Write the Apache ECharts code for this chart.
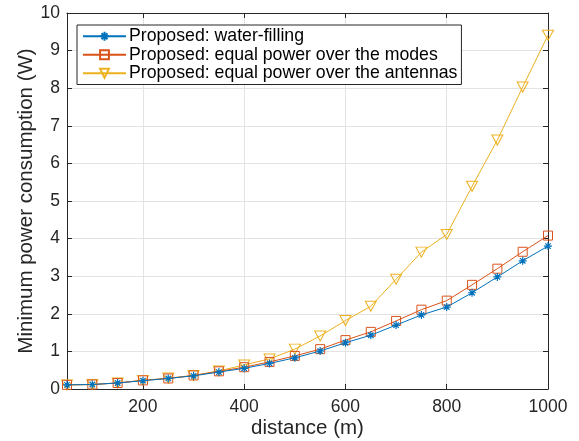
<!DOCTYPE html>
<html><head><meta charset="utf-8">
<script src="https://cdn.jsdelivr.net/npm/echarts@6/dist/echarts.min.js"></script>
<style>html,body{margin:0;padding:0;background:#fff}#c{width:579px;height:441px}</style>
</head><body><div id="c"></div>
<script>
const distance = [50,100,150,200,250,300,350,400,450,500,550,600,650,700,750,800,850,900,950,1000];
const waterFilling = [0.11,0.12,0.16,0.22,0.28,0.35,0.45,0.55,0.68,0.83,1.01,1.23,1.43,1.70,1.97,2.18,2.56,2.98,3.41,3.80];
const equalModes   = [0.11,0.12,0.16,0.23,0.28,0.36,0.47,0.58,0.72,0.88,1.06,1.30,1.52,1.81,2.11,2.35,2.77,3.20,3.65,4.08];
const equalAntennas= [0.11,0.12,0.16,0.23,0.29,0.36,0.48,0.64,0.80,1.06,1.41,1.82,2.20,2.92,3.64,4.11,5.39,6.62,8.03,9.41];
const xTicks = [200,400,600,800,1000];
const names = ['Proposed: water-filling','Proposed: equal power over the modes','Proposed: equal power over the antennas'];
const colors = ['#0072BD','#D95319','#EDB120'];

const FONT = '"Liberation Sans", Arial, Helvetica, sans-serif';
const AX = '#262626';
const star = 'path://M5,0 L5,10 M0,5 L10,5 M1.6,1.6 L8.4,8.4 M8.4,1.6 L1.6,8.4';
const tri = 'path://M0,0 L10,0 L5,9 Z';
const pair = (arr) => distance.map((d,i)=>[d,arr[i]]);

const chart = echarts.init(document.getElementById('c'), null, {renderer:'canvas'});
const baseX = {type:'value', min:50, max:1000,
  axisLine:{show:true, onZero:false, lineStyle:{color:AX, width:1}},
  axisTick:{show:true, inside:true, length:5, customValues:xTicks, lineStyle:{color:AX}},
  splitLine:{show:false}};
const baseY = {type:'value', min:0, max:10, interval:1,
  axisLine:{show:true, onZero:false, lineStyle:{color:AX, width:1}},
  axisTick:{show:true, inside:true, length:5, lineStyle:{color:AX}},
  splitLine:{show:false}};
chart.setOption({
  animation:false,
  backgroundColor:'#fff',
  grid:{left:67, right:31, top:13, bottom:52, containLabel:false, outerBoundsMode:'none'},
  legend:{
    show:true, orient:'vertical', left:77, top:25,
    data:names,
    itemWidth:43, itemHeight:11, itemGap:0,
    padding:[2,4,2,5],
    backgroundColor:'#fff', borderColor:'#262626', borderWidth:1, borderRadius:0,
    textStyle:{fontFamily:FONT, fontSize:17.7, lineHeight:18.5, color:'#000', padding:[0,0,0,-2]}
  },
  xAxis:[
    Object.assign({}, baseX, {position:'bottom',
      axisLabel:{show:true, customValues:xTicks, formatter:(v)=>String(v), fontFamily:FONT, fontSize:17.5, color:AX, margin:9},
      splitLine:{show:true, lineStyle:{color:'#e3e3e3', width:1}},
      name:'distance (m)', nameLocation:'middle', nameGap:29, nameMoveOverlap:false,
      nameTextStyle:{fontFamily:FONT, fontSize:20.5, color:AX}}),
    Object.assign({}, baseX, {position:'top', axisLabel:{show:false}})
  ],
  yAxis:[
    Object.assign({}, baseY, {position:'left',
      axisLabel:{show:true, fontFamily:FONT, fontSize:17.5, color:AX, margin:7},
      splitLine:{show:true, lineStyle:{color:'#e3e3e3', width:1}},
      name:'Minimum power consumption (W)', nameLocation:'middle', nameGap:30, nameMoveOverlap:false,
      nameTextStyle:{fontFamily:FONT, fontSize:20.5, color:AX}}),
    Object.assign({}, baseY, {position:'right', axisLabel:{show:false}})
  ],
  series:[
    {name:names[0], type:'line', data:pair(waterFilling), symbol:star, symbolSize:8, showAllSymbol:true,
     lineStyle:{color:colors[0], width:1}, itemStyle:{color:'rgba(0,0,0,0)', borderColor:colors[0], borderWidth:1.2}, z:4},
    {name:names[1], type:'line', data:pair(equalModes), symbol:'rect', symbolSize:9, showAllSymbol:true,
     lineStyle:{color:colors[1], width:1}, itemStyle:{color:'rgba(0,0,0,0)', borderColor:colors[1], borderWidth:1}, z:3},
    {name:names[2], type:'line', data:pair(equalAntennas), symbol:tri, symbolSize:[11,10], showAllSymbol:true,
     lineStyle:{color:colors[2], width:1}, itemStyle:{color:'rgba(0,0,0,0)', borderColor:colors[2], borderWidth:1}, z:2}
  ]
});
</script></body></html>
